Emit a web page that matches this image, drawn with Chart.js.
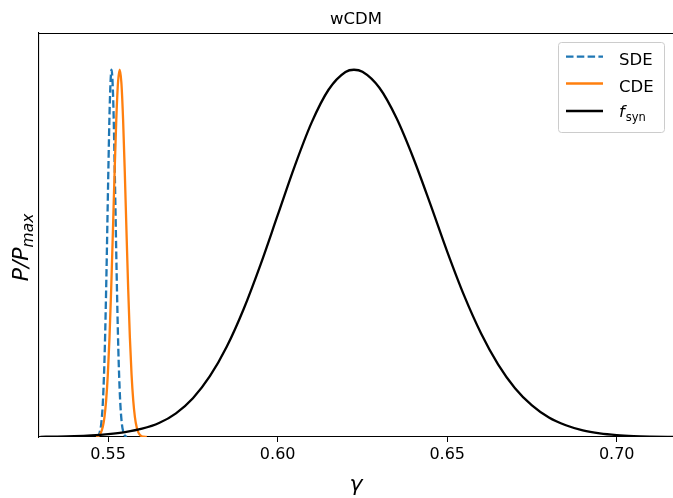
<!DOCTYPE html>
<html><head><meta charset="utf-8">
<script src="https://cdn.jsdelivr.net/npm/chart.js@4"></script>
<style>html,body{margin:0;padding:0;background:#fff;overflow:hidden;}</style>
</head><body>
<canvas id="c" width="673" height="498"></canvas>
<script>
// ---- data ----
const titleText = 'wCDM';
const xTickValues = [0.55, 0.60, 0.65, 0.70];
const xTickLabels = ['0.55', '0.60', '0.65', '0.70'];
const seriesLabels = ['SDE', 'CDE', 'f_syn'];

const sdeGamma = [0.5465,0.5470,0.5475,0.5480,0.5485,0.5490,0.5495,0.5500,0.5505,0.5510,0.5515,0.5520,0.5525,0.5530,0.5535,0.5540,0.5545,0.5550,0.5555];
const sdeP     = [0.0007,0.0032,0.0123,0.0395,0.106,0.238,0.446,0.698,0.914,1.0,0.914,0.698,0.446,0.238,0.106,0.0395,0.0123,0.0032,0.0007];

const cdeGamma = [0.5464,0.5469,0.5474,0.5479,0.5484,0.5489,0.5494,0.5499,0.5504,0.5509,0.5514,0.5519,0.5524,0.5529,0.5534,0.5539,0.5544,0.5549,0.5554,0.5559,0.5564,0.5569,0.5574,0.5579,0.5584,0.5589,0.5594,0.5599,0.5604,0.5614];
const cdeP     = [0.0008,0.0022,0.0055,0.0126,0.027,0.0536,0.099,0.170,0.272,0.405,0.561,0.722,0.865,0.9645,1.0,0.9645,0.865,0.722,0.561,0.405,0.272,0.170,0.099,0.0536,0.027,0.0126,0.0055,0.0022,0.0008,0.0002];

const fsynGamma = [0.530,0.535,0.540,0.545,0.550,0.555,0.560,0.565,0.570,0.575,0.580,0.585,0.590,0.595,0.600,0.605,0.610,0.615,0.620,0.6225,0.625,0.630,0.635,0.640,0.645,0.650,0.655,0.660,0.665,0.670,0.675,0.680,0.685,0.690,0.695,0.700,0.705,0.710,0.715,0.720];
const fsynP     = [0.0006,0.0012,0.0024,0.0045,0.0080,0.0135,0.0225,0.038,0.0645,0.1057,0.1655,0.2464,0.3493,0.4709,0.604,0.737,0.856,0.9455,0.9938,1.0,0.9944,0.9508,0.869,0.7597,0.6348,0.505,0.385,0.282,0.198,0.133,0.086,0.053,0.032,0.018,0.0098,0.0051,0.0025,0.0012,0.0005,0.0002];

const xMin = 0.5296, xMax = 0.7166, yMin = 0, yMax = 1.1;

const pts = (xs, ys) => xs.map((x, i) => ({x: x, y: ys[i]}));

const FONT = '"DejaVu Sans", sans-serif';

const deco = {
  id: 'deco',
  afterDraw(chart) {
    const ctx = chart.ctx, a = chart.chartArea;
    ctx.save();
    // top spine
    ctx.strokeStyle = '#000'; ctx.lineWidth = 1.1;
    ctx.beginPath(); ctx.moveTo(a.left, a.top + 0.5); ctx.lineTo(a.right, a.top + 0.5); ctx.stroke();
    // title
    ctx.fillStyle = '#000';
    ctx.font = '16.5px ' + FONT; ctx.textAlign = 'center'; ctx.textBaseline = 'alphabetic';
    ctx.fillText(titleText, (a.left + a.right) / 2, 24);
    // x label
    ctx.font = 'italic 22px ' + FONT;
    ctx.fillText('\u03B3', (a.left + a.right) / 2, 491);
    // y label P/P_max
    ctx.save();
    ctx.translate(28, 247.5);
    ctx.rotate(-Math.PI / 2);
    ctx.textAlign = 'left';
    ctx.font = 'italic 22px ' + FONT;
    const m1 = ctx.measureText('P/P').width;
    ctx.font = 'italic 15.5px ' + FONT;
    const m2 = ctx.measureText('max').width;
    const x0 = -(m1 + m2) / 2;
    ctx.font = 'italic 22px ' + FONT;
    ctx.fillText('P/P', x0, 0);
    ctx.font = 'italic 15.5px ' + FONT;
    ctx.fillText('max', x0 + m1, 5);
    ctx.restore();
    // legend
    const lx = 558.5, ly = 42.5, lw = 106, lh = 90;
    ctx.beginPath();
    ctx.roundRect(lx, ly, lw, lh, 3);
    ctx.fillStyle = 'rgba(255,255,255,0.8)'; ctx.fill();
    ctx.strokeStyle = '#cccccc'; ctx.lineWidth = 1; ctx.stroke();
    const rowsLine = [56.7, 83.5, 111];
    const rowsText = [65, 91.7, 117];
    chart.data.datasets.forEach((ds, i) => {
      ctx.save();
      ctx.strokeStyle = ds.borderColor; ctx.lineWidth = ds.borderWidth;
      ctx.setLineDash(ds.borderDash || []);
      ctx.beginPath(); ctx.moveTo(566, rowsLine[i]); ctx.lineTo(603, rowsLine[i]); ctx.stroke();
      ctx.restore();
      ctx.fillStyle = '#000'; ctx.textAlign = 'left'; ctx.textBaseline = 'alphabetic';
      const lab = ds.label;
      if (lab.indexOf('_') >= 0) {
        const [b, s] = lab.split('_');
        ctx.font = 'italic 16.5px ' + FONT;
        ctx.fillText(b, 619, rowsText[i]);
        const w = ctx.measureText(b).width;
        ctx.font = '11.5px ' + FONT;
        ctx.fillText(s, 619 + w + 1, rowsText[i] + 3.5);
      } else {
        ctx.font = '16.5px ' + FONT;
        ctx.fillText(lab, 619, rowsText[i]);
      }
    });
    ctx.restore();
  }
};

new Chart(document.getElementById('c'), {
  type: 'scatter',
  data: {
    datasets: [
      { label: seriesLabels[0], data: pts(sdeGamma, sdeP), showLine: true, borderColor: '#1f77b4', borderWidth: 2.3, borderDash: [7.5, 3.3], pointRadius: 0, cubicInterpolationMode: 'monotone', order: 3 },
      { label: seriesLabels[1], data: pts(cdeGamma, cdeP), showLine: true, borderColor: '#ff7f0e', borderWidth: 2.3, pointRadius: 0, cubicInterpolationMode: 'monotone', order: 2 },
      { label: seriesLabels[2], data: pts(fsynGamma, fsynP), showLine: true, borderColor: '#000000', borderWidth: 2.3, pointRadius: 0, cubicInterpolationMode: 'monotone', order: 1 }
    ]
  },
  options: {
    responsive: false, animation: false, devicePixelRatio: 1,
    layout: { padding: { top: 33, right: 0, left: 0, bottom: 0 } },
    plugins: { legend: { display: false }, tooltip: { enabled: false }, title: { display: false } },
    scales: {
      x: {
        type: 'linear', min: xMin, max: xMax,
        afterBuildTicks: s => { s.ticks = xTickValues.map(v => ({ value: v })); },
        afterFit: s => { s.height = 61; },
        ticks: { autoSkip: false, maxRotation: 0, padding: 3, color: '#000', font: { family: 'DejaVu Sans', size: 16 },
                 callback: (v, i) => xTickLabels[i] },
        grid: { display: true, drawOnChartArea: false, drawTicks: true, tickLength: 5, tickColor: '#000', tickWidth: 1 },
        border: { display: true, color: '#000', width: 1.1 }
      },
      y: {
        min: yMin, max: yMax,
        afterFit: s => { s.width = 39; },
        ticks: { display: false },
        grid: { display: false },
        border: { display: true, color: '#000', width: 1.1 }
      }
    }
  },
  plugins: [deco]
});
</script>
</body></html>
